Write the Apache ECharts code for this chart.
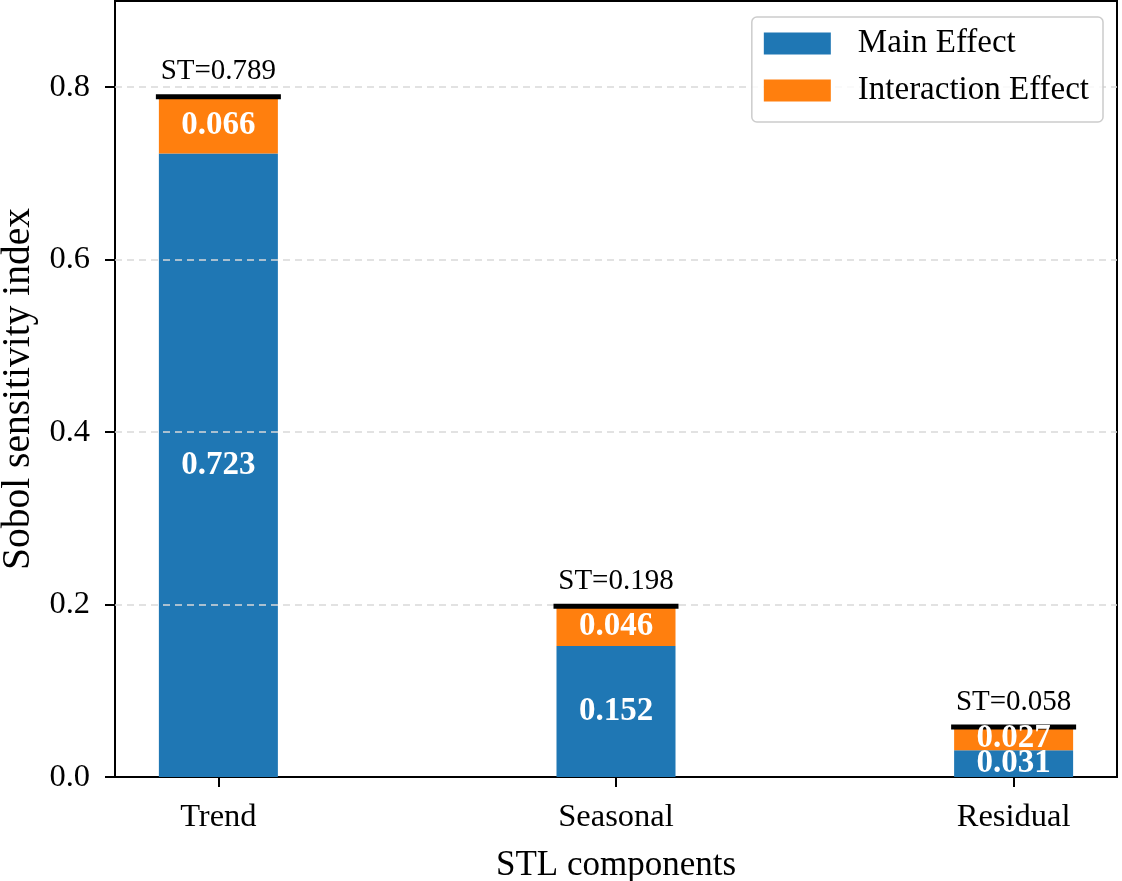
<!DOCTYPE html>
<html>
<head>
<meta charset="utf-8">
<script src="https://cdn.jsdelivr.net/npm/echarts@6/dist/echarts.min.js"></script>
<style>html,body{margin:0;padding:0;background:#fff}#c{width:1122px;height:881px}</style>
</head>
<body>
<div id="c"></div>
<script>
const categories = ['Trend', 'Seasonal', 'Residual'];
const mainEffect = [0.723, 0.152, 0.031];
const interactionEffect = [0.066, 0.046, 0.027];
const totalEffect = [0.789, 0.198, 0.058];
const yTicks = [0, 0.2, 0.4, 0.6, 0.8];
const xPositions = [0, 1, 2];

const FONT = 'Liberation Serif';
const chart = echarts.init(document.getElementById('c'));

// value first so that stacking happens on the value dimension
const barLabel = {
  show: true, position: 'inside', color: '#fff', fontWeight: 'bold',
  fontFamily: FONT, fontSize: 33,
  formatter: p => p.value[0].toFixed(3)
};
const mainData = xPositions.map((x, i) => [mainEffect[i], x]);
const interData = xPositions.map((x, i) => [interactionEffect[i], x]);

chart.setOption({
  animation: false,
  grid: { left: 115, right: 5, top: 1, bottom: 104, show: true, borderColor: '#000', borderWidth: 2,
    backgroundColor: 'transparent', containLabel: false, outerBoundsMode: 'none' },
  legend: {
    data: ['Main Effect', 'Interaction Effect'],
    orient: 'vertical', right: 19, top: 17, z: 10,
    itemWidth: 67, itemHeight: 22, itemGap: 14,
    padding: [10, 14, 15, 12],
    borderColor: '#cccccc', borderWidth: 1.5, borderRadius: 5,
    backgroundColor: 'rgba(255,255,255,0.85)',
    icon: 'rect',
    textStyle: { fontFamily: FONT, fontSize: 33, color: '#000', padding: [0, 0, 0, 22] }
  },
  xAxis: {
    type: 'value', min: -0.26, max: 2.26,
    name: 'STL components', nameLocation: 'middle', nameGap: 71,
    nameTextStyle: { fontFamily: FONT, fontSize: 35, color: '#000' },
    axisLine: { show: true, onZero: false, lineStyle: { color: '#000', width: 2 } },
    axisTick: { show: true, customValues: xPositions, length: 10, lineStyle: { color: '#000', width: 2 } },
    axisLabel: { customValues: xPositions, margin: 24, fontFamily: FONT, fontSize: 32.5, color: '#000',
      formatter: v => categories[Math.round(v)] },
    splitLine: { show: false }
  },
  yAxis: {
    type: 'value', min: 0, max: 0.9,
    name: 'Sobol sensitivity index', nameLocation: 'middle', nameGap: 71,
    nameTextStyle: { fontFamily: FONT, fontSize: 39.5, color: '#000' },
    axisLine: { show: true, onZero: false, lineStyle: { color: '#000', width: 2 } },
    axisTick: { show: true, customValues: yTicks, length: 10, lineStyle: { color: '#000', width: 2 } },
    axisLabel: { customValues: yTicks, margin: 25, fontFamily: FONT, fontSize: 32.5, color: '#000',
      formatter: v => v.toFixed(1) },
    splitLine: { show: false }
  },
  series: [
    {
      name: 'Main Effect', type: 'bar', stack: 'sobol', barWidth: 119,
      itemStyle: { color: '#1f77b4' },
      encode: { x: 1, y: 0 },
      data: mainData,
      z: 2
    },
    {
      name: 'Interaction Effect', type: 'bar', stack: 'sobol', barWidth: 119,
      itemStyle: { color: '#ff7f0e' },
      encode: { x: 1, y: 0 },
      data: interData,
      z: 2,
      markLine: {
        silent: true, symbol: 'none', z: 3,
        lineStyle: { color: '#d9d9d9', type: [7, 5], width: 1.5 },
        label: { show: false },
        data: yTicks.filter(v => v > 0).map(v => ({ yAxis: v }))
      }
    },
    {
      name: 'ST', type: 'scatter', symbol: 'rect', symbolSize: [125, 5],
      itemStyle: { color: '#000', opacity: 1 },
      data: xPositions.map((x, i) => [x, totalEffect[i]]),
      label: { show: true, position: 'top', distance: 8, fontFamily: FONT, fontSize: 29, color: '#000',
        formatter: p => 'ST=' + p.value[1].toFixed(3) },
      z: 4
    },
    {
      name: 'mainLabels', type: 'bar', stack: 'labels', barWidth: 119, barGap: '-100%',
      itemStyle: { color: 'rgba(0,0,0,0)' },
      encode: { x: 1, y: 0 },
      data: mainData, label: barLabel, z: 6, silent: true
    },
    {
      name: 'interLabels', type: 'bar', stack: 'labels', barWidth: 119, barGap: '-100%',
      itemStyle: { color: 'rgba(0,0,0,0)' },
      encode: { x: 1, y: 0 },
      data: interData, label: barLabel, z: 6, silent: true
    }
  ]
});
</script>
</body>
</html>
